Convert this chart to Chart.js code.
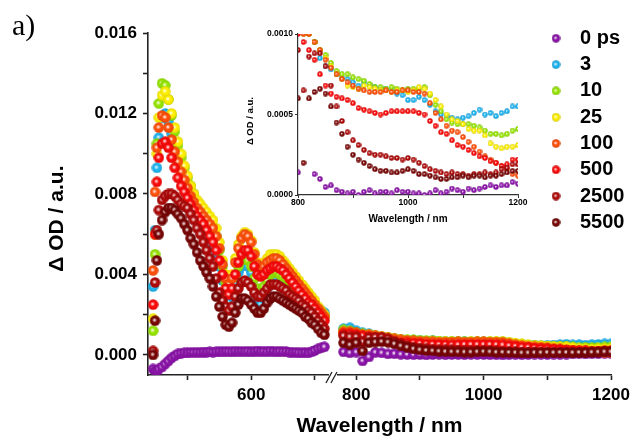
<!DOCTYPE html>
<html>
<head>
<meta charset="utf-8">
<script src="https://cdn.jsdelivr.net/npm/chart.js@4.4.1/dist/chart.umd.min.js"></script>
<style>
  html, body { margin: 0; padding: 0; background: #fff; }
  #wrap { position: relative; width: 631px; height: 439px; }
  #main { position: absolute; left: 0; top: 0; }
  #inset { position: absolute; left: 230px; top: 26px; }
</style>
</head>
<body>
<div id="wrap">
  <canvas id="main" width="631" height="439"></canvas>
  <canvas id="inset" width="300" height="201"></canvas>
</div>
<script>
// delay times and colours of the spectra
const delays = ['0 ps', '3', '10', '25', '100', '500', '2500', '5500'];
const colors = ['#8c14aa', '#1eb4f0', '#96e600', '#fff000', '#ff500a', '#fa0a0a', '#af0a0a', '#780505'];

// tick positions; only the ones in the *Labels lists get a number
const xTicksVis = [500, 600, 700];
const xTicksNir = [800, 900, 1000, 1100, 1200];
const xLabels = [600, 800, 1000, 1200];
const yTicks = [0, 0.002, 0.004, 0.006, 0.008, 0.010, 0.012, 0.014, 0.016];
const yLabels = [0, 0.004, 0.008, 0.012, 0.016];
const insetXTicks = [800, 900, 1000, 1100, 1200];
const insetXLabels = [800, 1000, 1200];
const insetYTicks = [0, 0.0005, 0.001];

// all absorbance values below are in units of 1e-4 OD
const UNIT = 1e-4;

// visible part (before the axis break), nm
const wlVis = [446, 449, 452, 455, 460, 465, 470, 475, 480, 485,
  490, 495, 500, 505, 510, 515, 520, 525, 530, 535,
  540, 545, 550, 555, 560, 565, 570, 575, 580, 585,
  590, 595, 600, 605, 610, 615, 620, 625, 630, 635,
  640, 645, 650, 655, 660, 665, 670, 675, 680, 685,
  690, 695, 700, 705, 710, 715];

const vis0 = [-7, -8, -8, -7, -6, -4.5, -3, -1.5, -0.5, 0.5,
  0.8, 1, 1, 1.2, 1.2, 1.3, 1.2, 1.4, 1.4, 1.5,
  1.4, 1.5, 1.6, 1.5, 1.7, 1.6, 1.5, 1.8, 1.6, 1.7,
  1.6, 1.8, 1.5, 1.7, 1.9, 1.6, 1.8, 1.6, 1.9, 1.7,
  1.5, 1.8, 1.6, 1.7, 1.4, 1.2, 1.3, 1.1, 1.0, 1.2,
  1.0, 1.5, 2.2, 3.0, 3.5, 4.0];
const vis3 = [34, 62, 93, 108, 118, 120, 116, 110, 104, 98,
  93, 88, 84, 79, 75, 71, 67, 63, 60, 57,
  54, 50, 44, 37, 30, 26, 29, 36, 41, 44,
  45, 44, 41, 33, 27, 25, 28, 33, 36, 38,
  38, 37, 36, 35, 33, 32, 31, 30, 29, 28,
  27, 26, 25, 23, 22, 21];
const vis10 = [12, 50, 105, 125, 135, 134, 127, 119, 111, 104,
  98, 93, 88, 84, 80, 76, 73, 70, 68, 66,
  63, 59, 52, 44, 36, 31, 33, 39, 44, 47,
  48, 47, 44, 38, 33, 32, 34, 37, 40, 41,
  41, 40, 39, 38, 36, 35, 33, 32, 30, 29,
  27, 26, 24, 22, 21, 19];
const vis25 = [18, 60, 100, 118, 129, 131, 127, 120, 113, 106,
  100, 94, 89, 84, 80, 77, 75, 73, 71, 69,
  67, 63, 56, 47, 40, 37, 40, 48, 55, 59,
  61, 60, 57, 51, 46, 45, 46, 48, 50, 50,
  50, 49, 47, 45, 43, 41, 39, 37, 35, 33,
  31, 29, 27, 24, 22, 20];
const vis100 = [42, 81, 103, 113, 119, 118, 113, 107, 101, 96,
  91, 87, 83, 79, 76, 73, 71, 69, 67, 65,
  63, 59, 53, 45, 38, 35, 38, 46, 53, 58,
  60, 59, 56, 50, 45, 43, 44, 46, 47, 48,
  48, 47, 45, 43, 41, 39, 37, 35, 33, 31,
  29, 27, 25, 23, 21, 19];
const vis500 = [25, 60, 86, 98, 105, 106, 103, 98, 93, 88,
  84, 81, 78, 75, 72, 69, 67, 65, 62, 59,
  56, 52, 47, 40, 33, 30, 33, 40, 46, 50,
  52, 52, 49, 44, 40, 39, 40, 42, 43, 44,
  44, 43, 42, 40, 38, 36, 34, 32, 30, 28,
  26, 25, 23, 21, 19, 17];
const vis2500 = [2, 36, 62, 72, 77, 79, 80, 80, 79, 77,
  75, 74, 73, 70, 67, 63, 60, 56, 52, 48,
  44, 38, 31, 27, 24, 22, 24, 29, 33, 36,
  37, 36, 34, 31, 29, 29, 31, 33, 35, 35,
  35, 34, 33, 32, 30, 29, 28, 27, 25, 24,
  22, 21, 19, 17, 15, 13];
const vis5500 = [0, 17, 47, 60, 67, 71, 73, 73, 72, 70,
  68, 65, 62, 58, 55, 51, 47, 44, 41, 38,
  34, 29, 24, 19, 15, 14, 16, 21, 25, 28,
  28, 27, 25, 23, 21, 21, 23, 26, 28, 29,
  29, 28, 27, 26, 25, 24, 23, 22, 21, 19,
  18, 16, 15, 13, 11, 10];

// near-IR part (after the break, also used by the inset), nm
const wlNir = [780, 790, 800, 810, 820, 830, 840, 850, 860, 870,
  880, 890, 900, 910, 920, 930, 940, 950, 960, 970,
  980, 990, 1000, 1010, 1020, 1030, 1040, 1050, 1060, 1070,
  1080, 1090, 1100, 1110, 1120, 1130, 1140, 1150, 1160, 1170,
  1180, 1190, 1200];

const nir0 = [1.5, 1, 1.4, -3, -1, 1.3, 1, 0.5, 0.6, 0.3,
  0.2, 0.1, 0.2, 0, 0.2, 0.3, 0.1, 0.2, 0.2, 0.1,
  0.3, 0.2, 0.2, 0.1, 0.1, 0, 0.1, 0.3, 0.1, 0.2,
  0.4, 0.3, 0.2, 0.4, 0.3, 0.4, 0.5, 0.6, 0.5, 0.6,
  0.6, 0.8, 0.7];
const nir3 = [13, 13.5, 12, 11, 10.5, 9.5, 8.5, 8, 7.8, 7.5,
  7.3, 7.2, 7, 6.8, 7, 6.8, 6.7, 6.6, 6.6, 6.5,
  6.3, 6.2, 5.9, 5.9, 6.1, 5.9, 5.6, 5.2, 5.0, 4.9,
  4.8, 4.7, 4.8, 4.9, 5.1, 5.3, 5.0, 5.1, 4.9, 5.1,
  5.2, 5.5, 5.5];
const nir10 = [12.5, 12, 11, 10.5, 10, 9.5, 9, 8.7, 8.2, 7.7,
  7.5, 7.5, 7.3, 7.2, 7.1, 6.9, 6.7, 6.7, 6.6, 6.7,
  6.6, 6.5, 6.6, 6.6, 6.6, 6.7, 6.2, 5.6, 5.2, 4.7,
  4.5, 4.4, 4.4, 4.4, 4.3, 4.2, 4.0, 3.8, 3.8, 3.7,
  3.8, 4.0, 4.1];
const nir25 = [11.5, 11, 10.5, 10, 10, 9.5, 9, 8.5, 8.0, 7.5,
  7.2, 6.8, 6.7, 6.6, 6.8, 6.7, 6.6, 6.5, 6.5, 6.4,
  6.5, 6.5, 6.4, 6.5, 6.7, 6.6, 6.3, 5.9, 5.5, 5.0,
  4.7, 4.6, 4.4, 4.1, 4.0, 4.0, 3.7, 3.2, 3.0, 2.9,
  3.0, 3.0, 3.1];
const nir100 = [11.5, 11.5, 11, 10, 10, 9.5, 9, 8.4, 7.9, 7.5,
  7.2, 7.0, 6.8, 6.6, 6.5, 6.4, 6.4, 6.4, 6.5, 6.4,
  6.4, 6.5, 6.5, 6.4, 6.4, 6.3, 5.7, 5.1, 4.7, 4.3,
  4.0, 3.9, 3.6, 3.3, 3.0, 2.7, 2.4, 2.2, 2.0, 1.8,
  1.6, 1.3, 1.2];
const nir500 = [10.5, 10.5, 10, 9.5, 9, 8.4, 7.5, 6.8, 6.3, 6.1,
  6.0, 5.9, 5.7, 5.4, 5.3, 5.2, 5.1, 5.0, 5.1, 5.2,
  5.2, 5.2, 5.2, 5.2, 5.1, 5.0, 4.6, 4.3, 3.9, 3.8,
  3.4, 3.1, 3.0, 2.8, 2.6, 2.4, 2.3, 2.1, 2.0, 1.8,
  1.9, 2.2, 2.2];
const nir2500 = [9.5, 9, 9, 6.5, 8.6, 8.8, 8.8, 8.0, 6.8, 5.5,
  4.6, 3.9, 3.4, 3.1, 2.8, 2.6, 2.5, 2.5, 2.4, 2.3,
  2.3, 2.2, 2.3, 2.2, 2.0, 1.8, 1.6, 1.5, 1.4, 1.3,
  1.4, 1.3, 1.3, 1.2, 1.3, 1.3, 1.4, 1.3, 1.4, 1.6,
  1.7, 1.9, 1.9];
const nir5500 = [6, 5, 6, 2, 6.0, 6.4, 6.6, 6.3, 5.5, 4.5,
  3.8, 3.0, 2.5, 2.2, 2.0, 1.8, 1.6, 1.5, 1.5, 1.4,
  1.4, 1.5, 1.6, 1.5, 1.3, 1.3, 1.2, 1.1, 1.0, 1.0,
  1.1, 1.1, 1.2, 1.1, 1.2, 1.2, 1.1, 1.2, 1.2, 1.3,
  1.4, 1.5, 1.5];

const visSeries = [vis0, vis3, vis10, vis25, vis100, vis500, vis2500, vis5500];
const nirSeries = [nir0, nir3, nir10, nir25, nir100, nir500, nir2500, nir5500];

const FONT = "'Liberation Sans', Arial, sans-serif";
Chart.defaults.font.family = FONT;
Chart.defaults.color = '#000';

// ball marker with a small white highlight (Origin sphere symbol)
function ball(color, d, shade) {
  const c = document.createElement('canvas');
  c.width = d; c.height = d;
  const g = c.getContext('2d');
  const r = d / 2;
  g.beginPath();
  g.arc(r, r, r - 0.3, 0, Math.PI * 2);
  g.fillStyle = color;
  g.fill();
  const sh = g.createRadialGradient(r, r, r * 0.55, r, r, r);
  sh.addColorStop(0, 'rgba(0,0,0,0)');
  sh.addColorStop(1, 'rgba(0,0,0,' + shade + ')');
  g.fillStyle = sh;
  g.fill();
  const hl = g.createRadialGradient(r * 0.9, r * 0.9, 0, r * 0.9, r * 0.9, r * 0.42);
  hl.addColorStop(0, 'rgba(255,255,255,0.95)');
  hl.addColorStop(0.5, 'rgba(255,255,255,0.6)');
  hl.addColorStop(1, 'rgba(255,255,255,0)');
  g.fillStyle = hl;
  g.fill();
  return c;
}

function points(xs, ys) {
  return xs.map((x, i) => ({ x: x, y: ys[i] * UNIT }));
}

function fixedTicks(list) {
  return s => { s.ticks = list.map(v => ({ value: v })); };
}

function hasLabel(list, v) {
  return list.some(t => Math.abs(t - v) < 1e-9);
}

const mainSets = [];
const insetSets = [];
delays.forEach((name, i) => {
  const big = ball(colors[i], 11, 0.12);
  mainSets.push({ label: name, xAxisID: 'x1', yAxisID: 'y', order: 8 - i,
    data: points(wlVis, visSeries[i]), pointStyle: big, pointRadius: 5.5 });
  mainSets.push({ label: name, xAxisID: 'x2', yAxisID: 'y', order: 8 - i,
    data: points(wlNir, nirSeries[i]), pointStyle: big, pointRadius: 5.5 });
  insetSets.push({ label: name, order: 8 - i, clip: 0,
    data: points(wlNir, nirSeries[i]), pointStyle: ball(colors[i], 6, 0.2), pointRadius: 3 });
});

const axisColor = '#222';
const gridOpts = { drawOnChartArea: false, tickLength: 5, tickColor: axisColor, tickWidth: 1.6 };
const borderOpts = { color: axisColor, width: 1.6 };
const tickFont = { size: 17, weight: 'bold' };
const NB = '\u00a0';

// axis break, panel letter and legend
const decor = {
  id: 'decor',
  afterDraw(chart) {
    const ctx = chart.ctx;
    const x0 = chart.scales.x2.left;
    const y0 = chart.chartArea.bottom;
    ctx.save();
    ctx.fillStyle = '#fff';
    ctx.fillRect(x0 - 5, y0 - 2, 8, 4);
    ctx.strokeStyle = axisColor;
    ctx.lineWidth = 1.3;
    ctx.beginPath();
    ctx.moveTo(x0 - 8, y0 + 8); ctx.lineTo(x0 - 2, y0 - 3);
    ctx.moveTo(x0 - 3, y0 + 8); ctx.lineTo(x0 + 3, y0 - 3);
    ctx.stroke();

    ctx.fillStyle = '#000';
    ctx.font = "30px 'Liberation Serif', 'Times New Roman', serif";
    ctx.textBaseline = 'alphabetic';
    ctx.fillText('a)', 12, 35);

    ctx.font = "bold 20px " + FONT;
    ctx.textBaseline = 'middle';
    ctx.textAlign = 'left';
    delays.forEach((name, i) => {
      const y = 38.3 + i * 26.3;
      ctx.drawImage(ball(colors[i], 9, 0.2), 556 - 4.5, y - 4.5);
      ctx.fillText(name, 580, y);
    });
    ctx.restore();
  }
};

new Chart(document.getElementById('main'), {
  type: 'scatter',
  data: { datasets: mainSets },
  options: {
    responsive: false,
    animation: false,
    events: [],
    layout: { padding: { left: 0, right: 20, top: 33, bottom: 0 } },
    plugins: { legend: { display: false }, tooltip: { enabled: false } },
    scales: {
      x1: {
        type: 'linear', position: 'bottom', stack: 'wl', stackWeight: 292, weight: 0,
        min: 438, max: 730,
        grid: gridOpts, border: borderOpts,
        afterBuildTicks: fixedTicks(xTicksVis),
        ticks: { autoSkip: false, maxRotation: 0, padding: 5, font: tickFont,
          callback: v => (hasLabel(xLabels, v) ? String(v) : '') },
        afterFit: s => { s.height = 34; s.paddingLeft = 0; s.paddingRight = 0; }
      },
      x2: {
        type: 'linear', position: 'bottom', stack: 'wl', stackWeight: 435, weight: 0,
        min: 765, max: 1200,
        grid: gridOpts, border: borderOpts,
        afterBuildTicks: fixedTicks(xTicksNir),
        ticks: { autoSkip: false, maxRotation: 0, padding: 5, font: tickFont,
          callback: v => (hasLabel(xLabels, v) ? String(v) : '') },
        afterFit: s => { s.height = 34; s.paddingLeft = 0; s.paddingRight = 0; }
      },
      xt: {
        type: 'linear', position: 'bottom', weight: 1, min: 0, max: 1,
        grid: { display: false }, border: { display: false }, ticks: { display: false },
        title: { display: true, text: 'Wavelength / nm', font: { size: 21, weight: 'bold' }, padding: 0 },
        afterFit: s => { s.height = 30; }
      },
      y: {
        type: 'linear', position: 'left', min: -0.001, max: 0.016,
        grid: gridOpts, border: borderOpts,
        afterBuildTicks: fixedTicks(yTicks),
        ticks: { autoSkip: false, padding: 6, font: tickFont,
          callback: v => (hasLabel(yLabels, v) ? v.toFixed(3) : '') },
        title: { display: true, text: 'Δ OD / a.u.' + NB.repeat(5), font: { size: 21, weight: 'bold' },
          padding: { top: 45, bottom: 0 } },
        afterFit: s => { s.width = 148; }
      }
    }
  },
  plugins: [decor]
});

const insetAxis = '#333';
const insetGrid = { drawOnChartArea: false, tickLength: 3, tickColor: insetAxis, tickWidth: 1 };
const insetBorder = { color: insetAxis, width: 1.2 };
const insetFont = { size: 8.5, weight: 'bold' };

new Chart(document.getElementById('inset'), {
  type: 'scatter',
  data: { datasets: insetSets },
  options: {
    responsive: false,
    animation: false,
    events: [],
    layout: { padding: { left: 0, right: 12, top: 8, bottom: 0 } },
    plugins: { legend: { display: false }, tooltip: { enabled: false } },
    scales: {
      x: {
        type: 'linear', min: 800, max: 1200,
        grid: insetGrid, border: insetBorder,
        afterBuildTicks: fixedTicks(insetXTicks),
        ticks: { autoSkip: false, maxRotation: 0, padding: 0, font: insetFont,
          callback: v => (hasLabel(insetXLabels, v) ? String(v) : '') },
        title: { display: true, text: 'Wavelength / nm', font: { size: 10, weight: 'bold' },
          padding: { top: 0, bottom: 2 } },
        afterFit: s => { s.height = 32; s.paddingLeft = 0; s.paddingRight = 0; }
      },
      y: {
        type: 'linear', min: 0, max: 0.001,
        grid: insetGrid, border: insetBorder,
        afterBuildTicks: fixedTicks(insetYTicks),
        ticks: { autoSkip: false, padding: 2, font: insetFont, callback: v => v.toFixed(4) },
        title: { display: true, text: 'Δ OD / a.u.' + NB.repeat(5), font: { size: 9.5, weight: 'bold' },
          padding: { top: 15, bottom: 0 } },
        afterFit: s => { s.width = 68; }
      }
    }
  }
});
</script>
</body>
</html>
